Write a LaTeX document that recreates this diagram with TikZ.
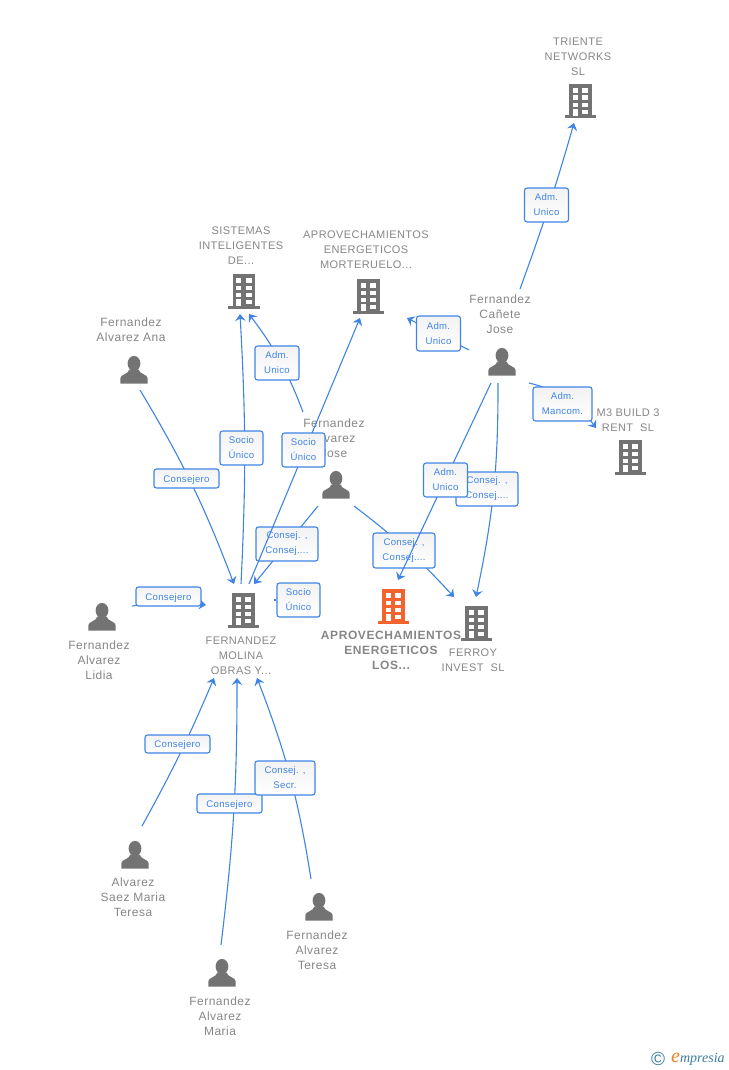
\documentclass[tikz,border=0pt]{standalone}
\usepackage{fontspec}
\setmainfont{Liberation Sans}
\newfontfamily\namefont[LetterSpace=4]{Liberation Sans}
\newfontfamily\boldnamefont[LetterSpace=5]{Liberation Sans}
\newfontfamily\tagfont[LetterSpace=3]{Liberation Sans}
\newfontfamily\markfont{Liberation Serif}
\usetikzlibrary{arrows.meta}
\definecolor{icongrey}{HTML}{737373}
\definecolor{namegrey}{HTML}{868686}
\definecolor{linkblue}{HTML}{3F84E5}
\definecolor{hotorange}{HTML}{F4622D}
\definecolor{markteal}{HTML}{3B7C9E}
\definecolor{markorange}{HTML}{F08020}
\tikzset{
 x=1pt,y=-1pt,
 building/.pic={
  \fill[#1] (-11,-17) rectangle (11.5,15);
  \fill[#1] (-15.5,14.5) rectangle (16,17.5);
  \fill[white] (-7.5,-13) rectangle (-2.2,-8);
  \fill[white] (2.2,-13) rectangle (8.2,-8);
  \fill[white] (-7.5,-5.5) rectangle (-2.2,-1);
  \fill[white] (2.2,-5.5) rectangle (8.2,-1);
  \fill[white] (-7.5,1.7) rectangle (-2.2,5.7);
  \fill[white] (2.2,1.7) rectangle (8.2,5.7);
  \fill[white] (-7.5,8) rectangle (-2.2,15);
  \fill[white] (2.2,9) rectangle (8.2,13);
 },
 person/.pic={
  \fill[icongrey] (0,-6.5) ellipse [x radius=6.4,y radius=7.6];
  \fill[icongrey] (-13.6,13.5) -- (-13.6,8) .. controls (-13.6,4.5) and (-6,4.5) .. (-4.5,-0.5)
     -- (4.5,-0.5) .. controls (6,4.5) and (13.6,4.5) .. (13.6,8) -- (13.6,13.5) -- cycle;
 },
 namelabel/.style={text=namegrey,font=\namefont\fontsize{12}{15}\selectfont,align=center,inner sep=0pt},
 firmlabel/.style={text=namegrey,font=\namefont\fontsize{11}{15}\selectfont,align=center,inner sep=0pt},
 boldlabel/.style={text=namegrey,font=\boldnamefont\bfseries\fontsize{12}{15}\selectfont,align=center,inner sep=0pt},
 link/.style={draw=linkblue,line width=1.1pt,-{Stealth[length=7pt,width=10.5pt,inset=2.5pt]}},
 tick/.style={draw=linkblue,line width=1.1pt},
 tagbox/.style n args={2}{draw=linkblue,line width=1.1pt,rounded corners=2.5pt,top color=black!5,bottom color=white,
   text=linkblue,font=\tagfont\fontsize{9.6}{15}\selectfont,align=center,inner sep=0pt,
   minimum width=#1,minimum height=#2,execute at begin node={\rule{0pt}{9pt}}},
}
\newcommand\conn[5]{\draw[link] ([shift={(#2)}]#1) to[bend left=#5] ([shift={(#4)}]#3);}
\begin{document}
\begin{tikzpicture}
\useasboundingbox (0,0) rectangle (728,1070);
% entity positions
\coordinate (triente) at (580,101);
\coordinate (sistemas) at (243.5,291);
\coordinate (morteruelo) at (368,296);
\coordinate (mthree) at (630,457);
\coordinate (molina) at (243,610);
\coordinate (los) at (393,606);
\coordinate (ferroy) at (476,623);
\coordinate (ana) at (134,370);
\coordinate (jose) at (336,485);
\coordinate (cane) at (502,362);
\coordinate (lidia) at (102,617);
\coordinate (saez) at (135,855);
\coordinate (teresa) at (319,907);
\coordinate (maria) at (222,973);
% icons
\pic at (triente) {building=icongrey};
\pic at (sistemas) {building=icongrey};
\pic at (morteruelo) {building=icongrey};
\pic at (mthree) {building=icongrey};
\pic at (molina) {building=icongrey};
\pic at (los) {building=hotorange};
\pic at (ferroy) {building=icongrey};
\pic at (ana) {person};
\pic at (jose) {person};
\pic at (cane) {person};
\pic at (lidia) {person};
\pic at (saez) {person};
\pic at (teresa) {person};
\pic at (maria) {person};
% names
\node[firmlabel] (ntriente) at (578,56.7) {TRIENTE\\NETWORKS\\SL};
\node[firmlabel] (nsistemas) at (241,245.7) {SISTEMAS\\INTELIGENTES\\DE...};
\node[firmlabel] (nmorteruelo) at (366,249.7) {APROVECHAMIENTOS\\ENERGETICOS\\MORTERUELO...};
\node[namelabel] (nana) at (131,329.5) {Fernandez\\Alvarez Ana};
\node[namelabel] (ncane) at (500,314) {Fernandez\\Cañete\\Jose};
\node[namelabel] (njose) at (334,438) {Fernandez\\Alvarez\\Jose};
\node[firmlabel] (nmthree) at (628,420.2) {M3 BUILD 3\\RENT\ \ SL};
\node[firmlabel] (nmolina) at (241,655.7) {FERNANDEZ\\MOLINA\\OBRAS Y...};
\node[boldlabel] (nlos) at (391,650) {APROVECHAMIENTOS\\ENERGETICOS\\LOS...};
\node[firmlabel] (nferroy) at (473,660.2) {FERROY\\INVEST\ \ SL};
\node[namelabel] (nlidia) at (99,660) {Fernandez\\Alvarez\\Lidia};
\node[namelabel] (nsaez) at (133,897) {Alvarez\\Saez Maria\\Teresa};
\node[namelabel] (nteresa) at (317,950) {Fernandez\\Alvarez\\Teresa};
\node[namelabel] (nmaria) at (220,1016) {Fernandez\\Alvarez\\Maria};
% connectors under the labels
\conn{cane}{18,-73}{triente}{-6,22}{-2}
\conn{cane}{-33,-12}{morteruelo}{39,22}{0}
\conn{cane}{27,21}{mthree}{-34,-29}{20}
\conn{cane}{-4,21}{ferroy}{0,-26}{6}
\conn{jose}{-33,-73}{sistemas}{5.5,23}{-8}
\conn{jose}{18,21}{ferroy}{-22,-26}{5}
\conn{jose}{-18,21}{molina}{11,-26}{0}
\conn{molina}{-2,-26}{sistemas}{-3.5,23}{-3}
\conn{ana}{6,20}{molina}{-9,-26}{5}
\conn{lidia}{30,-11}{molina}{-37,-5}{8}
\conn{saez}{7,-29}{molina}{-29,68}{-3}
\conn{maria}{-1,-28}{molina}{-6,68}{-3.5}
\conn{teresa}{-8,-28}{molina}{14,68}{-6}
% labels that two connectors cross
\node[tagbox={62}{35}] (t7) at (404,550.5) {Consej. ,\\Consej....};
\node[tagbox={62}{34}] (t8) at (287,544) {Consej. ,\\Consej....};
\conn{cane}{-11,21}{los}{5,-26}{0}
\conn{molina}{6,-26}{morteruelo}{-8,22}{0}
% other connector labels
\node[tagbox={44}{34}] (t1) at (546.5,205) {Adm.\\Unico};
\node[tagbox={44}{35}] (t2) at (438.5,333.5) {Adm.\\Unico};
\node[tagbox={59}{34}] (t3) at (562.5,404) {Adm.\\Mancom.};
\node[tagbox={62}{34}] (t5) at (487,489) {Consej. ,\\Consej....};
\node[tagbox={44}{34}] (t4) at (445.5,480) {Adm.\\Unico};
\node[tagbox={44}{34}] (t6) at (277,363) {Adm.\\Unico};
\node[tagbox={43}{34}] (t9) at (241.5,448) {Socio\\Único};
\node[tagbox={43}{34}] (t10) at (303.5,450) {Socio\\Único};
\node[tagbox={65}{19}] (t11) at (186.5,478.5) {Consejero};
\node[tagbox={65}{19}] (t12) at (168.5,596.5) {Consejero};
\node[tagbox={43}{34}] (t13) at (298.5,600) {Socio\\Único};
\node[tagbox={65}{18}] (t14) at (177.5,744) {Consejero};
\node[tagbox={65}{19}] (t15) at (229.5,803.5) {Consejero};
\node[tagbox={60}{34}] (t16) at (285,778) {Consej. ,\\Secr.};
\draw[tick] (t13.west) -- ++(-2,0);
% watermark
\node[inner sep=0pt,anchor=center,text=markteal,font=\fontsize{19}{19}\selectfont] (wm1) at (658,1059) {©};
\node[inner sep=0pt,anchor=west,font=\markfont\itshape\fontsize{14}{14}\selectfont] (wm2) at (671,1059) {\textcolor{markorange}{\fontsize{20}{20}\selectfont e}\textcolor{markteal}{mpresia}};
\end{tikzpicture}
\end{document}
